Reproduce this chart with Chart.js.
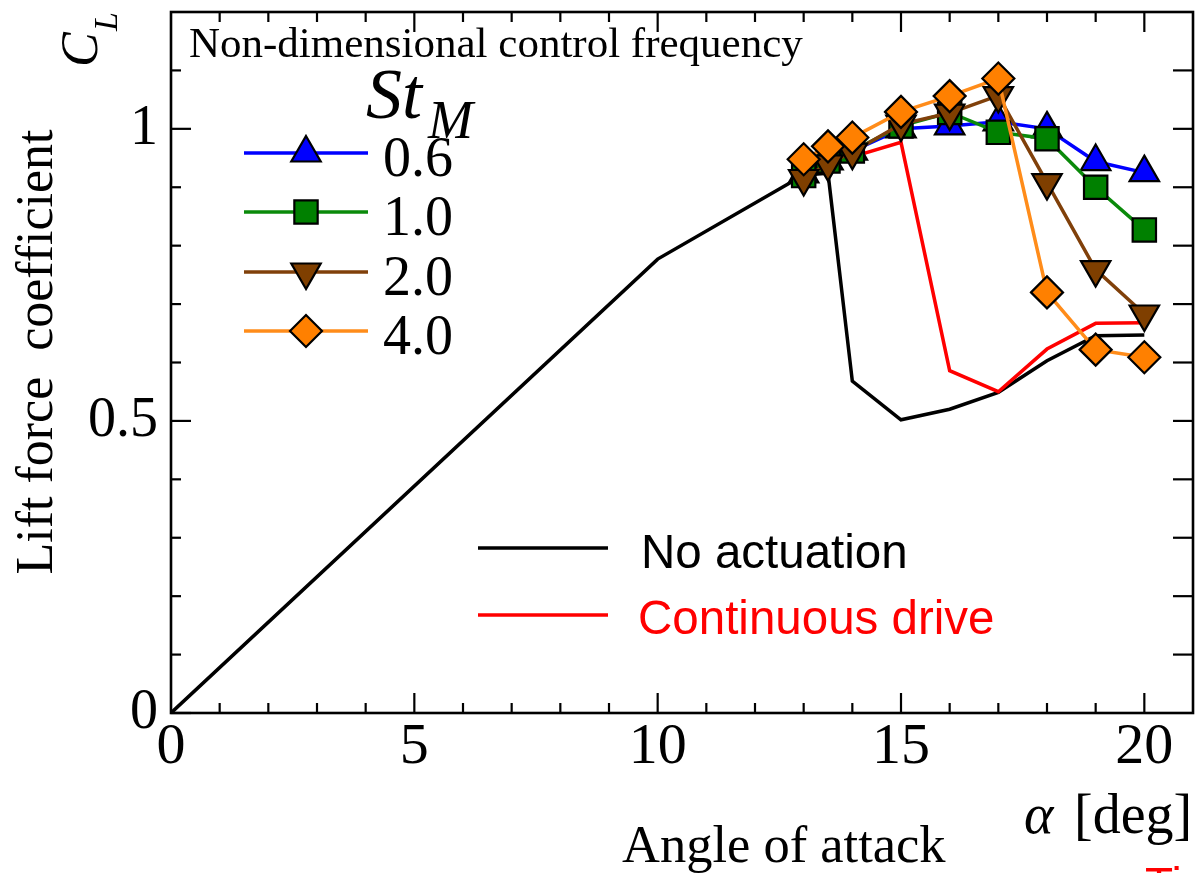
<!DOCTYPE html>
<html>
<head>
<meta charset="utf-8">
<script src="https://cdn.jsdelivr.net/npm/chart.js@4/dist/chart.umd.min.js"></script>
<style>
  html, body { margin: 0; padding: 0; background: #fff; }
  #wrap { width: 1199px; height: 873px; }
</style>
</head>
<body>
<div id="wrap"><canvas id="liftChart" width="1199" height="873"></canvas></div>
<script>
// Angle of attack [deg]
const alphaBaseline = [0, 10, 13, 13.5, 14, 15, 16, 17, 18, 19, 20];
const alphaDrive = [13, 13.5, 14, 15, 16, 17, 18, 19, 20];
const alphaBurst = [13, 13.5, 14, 15, 16, 17, 18, 19, 20];

// Lift coefficient C_L
const noActuation = [0, 0.777, 0.921, 0.924, 0.568, 0.502, 0.520, 0.549, 0.603, 0.646, 0.647];
const continuousDrive = [0.922, 0.94, 0.952, 0.977, 0.586, 0.550, 0.623, 0.667, 0.668];
const st06 = [0.923, 0.945, 0.962, 1.000, 1.005, 1.012, 1.000, 0.944, 0.925];
const st10 = [0.920, 0.945, 0.962, 1.005, 1.028, 0.994, 0.983, 0.900, 0.827];
const st20 = [0.915, 0.940, 0.960, 1.008, 1.027, 1.057, 0.908, 0.759, 0.683];
const st40 = [0.948, 0.970, 0.985, 1.029, 1.056, 1.086, 0.720, 0.622, 0.609];

const stLabels = ['0.6', '1.0', '2.0', '4.0'];
const xTickLabels = [0, 5, 10, 15, 20];
const yTickLabels = [0, 0.5, 1];

const serif = '"Liberation Serif", "Times New Roman", serif';
const sans = '"Liberation Sans", Arial, sans-serif';

function pts(xs, ys) {
    return xs.map((x, i) => ({ x: x, y: ys[i] }));
}

const stStyles = [
    { color: '#0000ff', style: 'triangle', rotation: 0 },
    { color: '#008000', style: 'rect', rotation: 0 },
    { color: '#7f3f00', style: 'triangle', rotation: 180 },
    { color: '#ff8000', style: 'rectRot', rotation: 0 }
];
const stLine = ['#0000ff', '#0a8a0a', '#80400a', '#ff8c1a'];
const stSeries = [st06, st10, st20, st40];

function markerRadius(style) {
    if (style === 'rect') return 16.5;
    if (style === 'rectRot') return 16;
    return 17;
}

function markerDataset(i) {
    const s = stStyles[i];
    return {
        label: 'St_M ' + stLabels[i],
        data: pts(alphaBurst, stSeries[i]),
        showLine: true,
        borderColor: stLine[i],
        borderWidth: 3.5,
        pointStyle: s.style,
        rotation: s.rotation,
        pointRadius: markerRadius(s.style),
        pointBackgroundColor: s.color,
        pointBorderColor: '#000',
        pointBorderWidth: 2.2,
        order: 3 - i
    };
}

// frame, inward ticks, legends and annotations
const decorations = {
    id: 'decorations',
    afterDraw(chart) {
        const ctx = chart.ctx;
        const a = chart.chartArea;
        const xs = chart.scales.x;
        const ys = chart.scales.y;
        ctx.save();

        function seg(x1, y1, x2, y2) {
            ctx.beginPath();
            ctx.moveTo(x1, y1);
            ctx.lineTo(x2, y2);
            ctx.stroke();
        }

        ctx.strokeStyle = '#000';
        ctx.lineWidth = 2.2;
        for (let v = 1; v <= 20; v++) {
            const px = xs.getPixelForValue(v);
            const len = v % 5 === 0 ? 20 : 10;
            seg(px, a.bottom, px, a.bottom - len);
            seg(px, a.top, px, a.top + len);
        }
        for (let i = 0; i <= 11; i++) {
            const py = ys.getPixelForValue(i / 10);
            const len = i % 5 === 0 ? 20 : 10;
            seg(a.left, py, a.left + len, py);
            if (i > 0) seg(a.right, py, a.right - 20, py);
        }
        ctx.lineWidth = 2.6;
        ctx.strokeRect(a.left, a.top, a.right - a.left, a.bottom - a.top);

        // St_M legend
        const rowY = [153, 212, 272, 331];
        ctx.textAlign = 'left';
        ctx.textBaseline = 'alphabetic';
        rowY.forEach((y, i) => {
            const s = stStyles[i];
            ctx.strokeStyle = stLine[i];
            ctx.lineWidth = 3.5;
            seg(244, y, 368, y);
            ctx.fillStyle = s.color;
            ctx.strokeStyle = '#000';
            ctx.lineWidth = 2.2;
            Chart.helpers.drawPoint(ctx, {
                pointStyle: s.style,
                rotation: s.rotation,
                radius: markerRadius(s.style),
                borderWidth: 2.2
            }, 306, y);
            ctx.fillStyle = '#000';
            ctx.font = '56px ' + serif;
            ctx.fillText(stLabels[i], 383, y + 23);
        });

        ctx.fillStyle = '#000';
        ctx.font = '43px ' + serif;
        ctx.fillText('Non-dimensional control frequency', 189, 57);

        ctx.font = 'italic 72px ' + serif;
        ctx.fillText('St', 366, 118);
        ctx.font = 'italic 54px ' + serif;
        ctx.fillText('M', 428, 138);

        // line legend
        ctx.lineWidth = 3.5;
        ctx.strokeStyle = '#000';
        seg(478, 548, 608, 548);
        ctx.strokeStyle = '#ff0000';
        seg(478, 615, 608, 615);
        ctx.font = '47.5px ' + sans;
        ctx.fillStyle = '#000';
        ctx.fillText('No actuation', 641, 568);
        ctx.fillStyle = '#ff0000';
        ctx.fillText('Continuous drive', 638, 634);

        // axis titles
        ctx.fillStyle = '#000';
        ctx.font = '52.5px ' + serif;
        ctx.fillText('Angle of attack', 622, 862);
        ctx.font = 'italic 56px ' + serif;
        ctx.fillText('\u03b1', 1024, 833);
        ctx.font = '56px ' + serif;
        ctx.fillText('[deg]', 1074, 833);

        ctx.save();
        ctx.translate(52, 352);
        ctx.rotate(-Math.PI / 2);
        ctx.textAlign = 'center';
        ctx.font = '52px ' + serif;
        ctx.fillText('Lift force  coefficient', 0, 0);
        ctx.restore();

        ctx.save();
        ctx.translate(97, 67);
        ctx.rotate(-Math.PI / 2);
        ctx.textAlign = 'left';
        ctx.font = 'italic 52px ' + serif;
        ctx.fillText('C', 0, 0);
        ctx.font = 'italic 34px ' + serif;
        ctx.fillText('L', 36, 20);
        ctx.restore();

        ctx.fillStyle = '#ff0000';
        ctx.font = '46px ' + sans;
        ctx.fillText('Ti', 1145, 900);

        ctx.restore();
    }
};

const ctx = document.getElementById('liftChart').getContext('2d');
new Chart(ctx, {
    type: 'scatter',
    data: {
        datasets: [
            markerDataset(0),
            markerDataset(1),
            markerDataset(2),
            markerDataset(3),
            {
                label: 'Continuous drive',
                data: pts(alphaDrive, continuousDrive),
                showLine: true,
                borderColor: '#ff0000',
                borderWidth: 3.5,
                pointRadius: 0,
                order: 4
            },
            {
                label: 'No actuation',
                data: pts(alphaBaseline, noActuation),
                showLine: true,
                borderColor: '#000000',
                borderWidth: 3.5,
                pointRadius: 0,
                order: 5
            }
        ]
    },
    options: {
        responsive: false,
        animation: false,
        devicePixelRatio: 1,
        layout: { autoPadding: false, padding: { left: 0, right: 6, top: 12, bottom: 0 } },
        plugins: {
            legend: { display: false },
            tooltip: { enabled: false }
        },
        scales: {
            x: {
                type: 'linear',
                min: 0,
                max: 21,
                afterBuildTicks: function(scale) {
                    scale.ticks = xTickLabels.map(v => ({ value: v }));
                },
                ticks: {
                    font: { family: serif, size: 58, lineHeight: 1.2 },
                    color: '#000',
                    padding: 0,
                    maxRotation: 0,
                    autoSkip: false,
                    callback: v => String(v)
                },
                grid: { display: false, drawTicks: false },
                border: { display: false },
                afterFit: function(scale) {
                    scale.height = 160;
                    scale.paddingLeft = 0;
                    scale.paddingRight = 0;
                }
            },
            y: {
                type: 'linear',
                min: 0,
                max: 1.2,
                afterBuildTicks: function(scale) {
                    scale.ticks = yTickLabels.map(v => ({ value: v }));
                },
                ticks: {
                    font: { family: serif, size: 56 },
                    color: '#000',
                    padding: 13,
                    autoSkip: false,
                    callback: v => String(v)
                },
                grid: { display: false, drawTicks: false },
                border: { display: false },
                afterFit: function(scale) {
                    scale.width = 171;
                    scale.paddingTop = 0;
                    scale.paddingBottom = 0;
                }
            }
        }
    },
    plugins: [decorations]
});
</script>
</body>
</html>
